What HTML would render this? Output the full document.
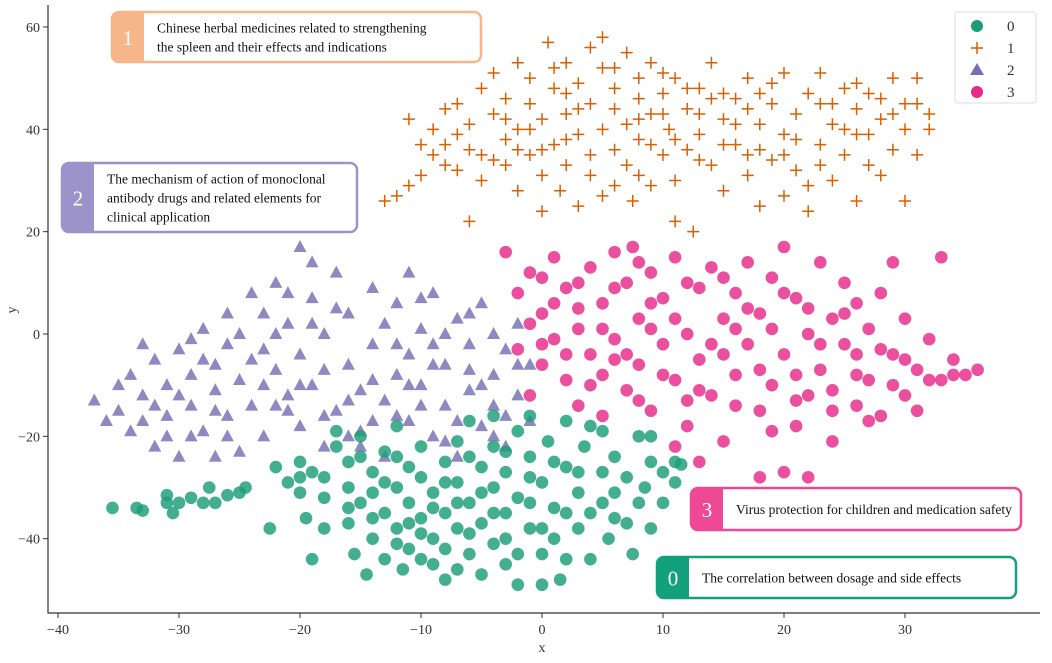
<!DOCTYPE html>
<html><head><meta charset="utf-8">
<style>
body{margin:0;background:#fff;}
svg text{font-family:"Liberation Serif",serif;}
</style></head>
<body>
<svg id="chart" width="1052" height="658" viewBox="0 0 1052 658" xmlns="http://www.w3.org/2000/svg">
<rect width="1052" height="658" fill="#fff"/>
<g id="marks"></g>
<g id="axes"></g>
</svg>
<script>
const xTicks=[-40,-30,-20,-10,0,10,20,30];
const yTicks=[-40,-20,0,20,40,60];
const tickLabels={"-40":"\u221240","-30":"\u221230","-20":"\u221220","-10":"\u221210","0":"0","10":"10","20":"20","30":"30","40":"40","60":"60"};
const cluster0=[[-35.5,-34],[-33.5,-34],[-33,-34.5],[-31,-31.5],[-31,-33],[-30.5,-35],[-30,-33],[-29,-32],[-28,-33],[-27.5,-30],[-27,-33],[-26,-31.5],[-25,-31],[-24.5,-30],[-22.5,-38],[-22,-26],[-21,-29],[-20,-25],[-20,-31],[-19.5,-36],[-19,-27],[-19,-44],[-18,-38],[-18,-28],[-17,-22],[-16,-25],[-16,-30],[-16,-37],[-15.5,-43],[-15,-20],[-15,-33],[-14.5,-47],[-14,-27],[-14,-40],[-13,-23],[-13,-35],[-13,-44],[-12,-30],[-12,-38],[-12,-24],[-11.5,-46],[-11,-33],[-11,-42],[-10,-28],[-10,-36],[-10,-22],[-9,-45],[-9,-31],[-9,-40],[-8,-25],[-8,-35],[-8,-48],[-7,-29],[-7,-38],[-7,-21],[-6,-43],[-6,-33],[-5,-26],[-5,-37],[-5,-47],[-4,-30],[-4,-41],[-4,-22],[-3,-35],[-3,-27],[-3,-45],[-2,-19],[-2,-32],[-2,-49],[-1,-24],[-1,-38],[-1,-16],[0,-29],[0,-43],[0,-49],[0.5,-21],[1,-34],[1,-40],[1.5,-48],[2,-26],[2,-17],[3,-31],[3,-38],[3.5,-22],[4,-35],[4,-44],[5,-27],[5,-19],[5.5,-40],[6,-31],[6,-24],[7,-37],[7,-28],[7.5,-43],[8,-33],[8,-20],[9,-38],[9,-25],[10,-27],[10,-33],[11,-25],[11,-29],[8.5,-30],[-6,-17],[-4,-16],[-12,-18],[-17,-19],[-14,-31],[-10,-39],[-7,-33],[-3,-40],[2,-35],[-1,-28],[-15,-24],[-13,-29],[-11,-26],[-9,-34],[-8,-42],[-6,-39],[-5,-31],[-4,-35],[-2,-43],[-1,-33],[1,-25],[3,-27],[4,-18],[6,-36],[-12,-41],[-10,-44],[-7,-46],[-3,-23],[-16,-34],[-18,-32],[-20,-28],[-8,-29],[0,-38],[2,-44],[5,-33],[-6,-24],[-14,-36],[-11,-37],[9,-20],[11.5,-25.5]];
const cluster1=[[-13,26],[-12,27],[-11,29],[-10,31],[-9,35],[-9,40],[-8,37],[-8,44],[-7,32],[-7,39],[-6,41],[-6,36],[-5,48],[-5,30],[-4,43],[-4,51],[-4,34],[-3,38],[-3,46],[-2,53],[-2,40],[-2,28],[-1,45],[-1,35],[-1,50],[0,24],[0,31],[0,42],[0.5,57],[1,48],[1,37],[1.5,28],[2,53],[2,43],[2,33],[3,49],[3,39],[3,25],[4,56],[4,45],[4,31],[5,52],[5,40],[5,27],[6,48],[6,36],[6,44],[7,55],[7,33],[7,41],[7.5,26],[8,50],[8,38],[8,46],[9,29],[9,43],[9,53],[10,35],[10,47],[10.5,40],[11,50],[11,30],[12,44],[12,36],[12.5,20],[13,48],[13,39],[14,33],[14,53],[15,42],[15,28],[16,46],[16,37],[17,50],[17,31],[18,41],[18,25],[19,45],[19,34],[20,51],[20,39],[20,27],[21,43],[21,32],[22,47],[22,24],[23,37],[23,45],[24,41],[24,30],[25,48],[25,35],[26,44],[26,26],[27,39],[27,33],[28,46],[28,42],[29,36],[29,50],[30,45],[30,26],[31,50],[31,35],[32,43],[32,40],[-11,42],[-6,22],[5,58],[23,51],[11,22],[-3,33],[3,44],[9,37],[15,47],[18,36],[26,39],[13,43],[-10,37],[-7,45],[-5,35],[-3,42],[-1,40],[1,52],[2,38],[4,35],[6,52],[8,42],[10,51],[11,38],[13,34],[14,46],[16,41],[17,35],[19,49],[21,38],[22,29],[24,45],[25,40],[27,47],[28,31],[30,40],[31,45],[2,47],[6,29],[12,48],[18,47],[-2,36],[20,35],[26,49],[8,31],[15,37],[23,33],[-8,33],[0,36],[10,43],[17,44],[29,43]];
const cluster2=[[-37,-13],[-36,-17],[-35,-15],[-34,-19],[-34,-8],[-33,-2],[-33,-12],[-32,-22],[-32,-5],[-31,-16],[-31,-10],[-30,-24],[-30,-3],[-29,-14],[-29,-8],[-28,-19],[-28,1],[-27,-6],[-27,-11],[-26,-2],[-26,-16],[-26,4],[-25,-23],[-25,-9],[-24,-14],[-24,8],[-23,-3],[-23,-20],[-22,10],[-22,-7],[-21,-12],[-21,2],[-20,17],[-20,-18],[-20,-4],[-19,7],[-19,-10],[-18,-22],[-18,0],[-17,12],[-17,-15],[-16,-6],[-16,4],[-15,-11],[-15,-19],[-14,9],[-14,-2],[-13,-13],[-13,-24],[-12,6],[-12,-8],[-11,12],[-11,-17],[-11,-4],[-10,1],[-10,-10],[-9,-20],[-9,8],[-8,-6],[-8,-14],[-7,3],[-7,-24],[-6,-2],[-6,-11],[-5,-18],[-5,6],[-4,-8],[-4,-14],[-3,-3],[-3,-22],[-2,2],[-2,-12],[-1,-6],[-1,-17],[-23,-10],[-27,-24],[-15,-22],[-9,-2],[-18,-7],[-21,-15],[-29,-20],[-12,-2],[-6,-7],[-25,0],[-16,-13],[-35,-10],[-33,-17],[-31,-20],[-30,-12],[-28,-5],[-27,-15],[-26,-20],[-24,-5],[-22,-14],[-22,0],[-20,-10],[-19,2],[-18,-16],[-17,5],[-16,-20],[-14,-9],[-13,2],[-12,-16],[-11,-10],[-10,-14],[-9,-6],[-8,0],[-7,-17],[-6,4],[-5,-10],[-4,0],[-3,-16],[-2,-6],[-21,8],[-19,14],[-23,4],[-10,7],[-14,-17],[-29,-1],[-32,-14],[-8,-21],[-4,-20]];
const cluster3=[[-3,16],[-2,8],[-2,-3],[-1,12],[-1,-12],[0,4],[0,-6],[1,15],[1,-1],[2,9],[2,-9],[3,1],[3,-14],[4,13],[4,-4],[5,6],[5,-8],[6,16],[6,-1],[7,10],[7,-11],[7.5,17],[8,3],[8,-6],[9,12],[9,-15],[10,-2],[10,7],[11,-9],[11,15],[12,0],[12,-18],[13,9],[13,-5],[14,13],[14,-12],[15,3],[15,-21],[16,-8],[16,8],[17,14],[17,-2],[18,-15],[18,4],[19,-10],[19,11],[20,17],[20,-4],[20,-27],[21,-18],[21,7],[22,0],[22,-12],[23,14],[23,-7],[24,3],[24,-21],[25,-2],[25,10],[26,-14],[26,6],[27,-9],[27,1],[28,8],[28,-16],[29,-4],[29,14],[30,-12],[30,3],[31,-7],[31,-15],[32,-1],[33,-9],[33,15],[34,-5],[35,-8],[36,-7],[5,-16],[11,-22],[22,-28],[18,-28],[3,5],[13,-25],[9,1],[6,-5],[15,-4],[21,-8],[26,-4],[0,11],[1,6],[2,-4],[3,10],[4,-10],[5,1],[6,9],[7,-4],[8,-13],[9,6],[10,-8],[11,3],[12,10],[13,-11],[14,-2],[15,11],[16,-14],[17,5],[18,-7],[19,1],[20,8],[21,-13],[22,5],[23,-2],[24,-11],[25,4],[26,-8],[27,-17],[28,-3],[29,-10],[30,-5],[32,-9],[34,-8],[0,-2],[-1,2],[19,-19],[12,-13],[8,14],[16,1],[24,-15]];
const colors=["#1b9e77","#d95f02","#7570b3","#e7298a"];
const X0=542, XS=12.1, Y0=334, YS=5.117;
function sx(v){return X0+v*XS;}
function sy(v){return Y0-v*YS;}
const NS="http://www.w3.org/2000/svg";
function mk(tag,attrs,parent){const e=document.createElementNS(NS,tag);for(const k in attrs)e.setAttribute(k,attrs[k]);parent.appendChild(e);return e;}
const marks=document.getElementById('marks');
const axes=document.getElementById('axes');
function circle(p,c,name){const e=mk('circle',{cx:sx(p[0]),cy:sy(p[1]),r:6.3,fill:c,'fill-opacity':0.82},marks);

}
cluster2.forEach(p=>{const x=sx(p[0]),y=sy(p[1]);const e=mk('polygon',{points:`${x},${y-7} ${x-6.5},${y+5} ${x+6.5},${y+5}`,fill:colors[2],'fill-opacity':0.82},marks);

});
cluster3.forEach(p=>circle(p,colors[3],'cluster-3-point'));
cluster0.forEach(p=>circle(p,colors[0],'cluster-0-point'));
cluster1.forEach(p=>{const x=sx(p[0]),y=sy(p[1]);const e=mk('path',{d:`M${x-6},${y}H${x+6}M${x},${y-6}V${y+6}`,stroke:colors[1],'stroke-width':1.5,fill:'none'},marks);

});
const ax=mk('path',{d:'M48,5V613H1040',stroke:'#333',fill:'none','stroke-width':1.2},axes);


xTicks.forEach(t=>{mk('line',{x1:sx(t),x2:sx(t),y1:613,y2:618,stroke:'#333'},axes);
const tx=mk('text',{x:sx(t),y:634,'text-anchor':'middle','font-size':14,fill:'#333'},axes);tx.textContent=tickLabels[t];

});
yTicks.forEach(t=>{mk('line',{x1:43,x2:48,y1:sy(t),y2:sy(t),stroke:'#333'},axes);
const tx=mk('text',{x:40,y:sy(t)+5,'text-anchor':'end','font-size':14,fill:'#333'},axes);tx.textContent=tickLabels[t];

});
const xl=mk('text',{x:542,y:652,'text-anchor':'middle','font-size':14,fill:'#333'},axes);xl.textContent='x';


const yl=mk('text',{x:12,y:314,'text-anchor':'middle','font-size':14,fill:'#333',transform:'rotate(-90 12 310)'},axes);yl.textContent='y';


const lg=mk('g',{},axes);


mk('rect',{x:955,y:12,width:81,height:91,rx:3,fill:'#fff',stroke:'#ddd'},lg);
const labs=['0','1','2','3'];
labs.forEach((l,i)=>{const y=26+i*22;const x=977;
if(i==1){mk('path',{d:`M${x-6},${y}H${x+6}M${x},${y-6}V${y+6}`,stroke:colors[1],'stroke-width':1.5},lg);}
else if(i==2){mk('polygon',{points:`${x},${y-7} ${x-7},${y+5} ${x+7},${y+5}`,fill:colors[2]},lg);}
else mk('circle',{cx:x,cy:y,r:6,fill:colors[i]},lg);
const t=mk('text',{x:1007,y:y+5,'font-size':15,fill:'#333'},lg);t.textContent=l;

});
const boxes=[
 {n:'1',x:112,y:12,w:369,h:50,c:'#f7b58a',lines:['Chinese herbal medicines related to strengthening','the spleen and their effects and indications'],name:'annotation-topic-1'},
 {n:'2',x:62,y:163,w:295,h:69,c:'#9c93cb',lines:['The mechanism of action of monoclonal','antibody drugs and related elements for','clinical application'],name:'annotation-topic-2'},
 {n:'3',x:691,y:488,w:330,h:42,c:'#ef4895',lines:['Virus protection for children and medication safety'],name:'annotation-topic-3'},
 {n:'0',x:657,y:557,w:359,h:41,c:'#13a07c',lines:['The correlation between dosage and side effects'],name:'annotation-topic-0'}];
boxes.forEach(b=>{const g=mk('g',{},axes);


mk('rect',{x:b.x,y:b.y,width:b.w,height:b.h,rx:7,fill:'#fff',stroke:b.c,'stroke-width':2.5},g);
mk('path',{d:`M${b.x+7},${b.y}H${b.x+32}V${b.y+b.h}H${b.x+7}Q${b.x},${b.y+b.h} ${b.x},${b.y+b.h-7}V${b.y+7}Q${b.x},${b.y} ${b.x+7},${b.y}Z`,fill:b.c},g);
const nt=mk('text',{x:b.x+16,y:b.y+b.h/2+8,'text-anchor':'middle','font-size':21,fill:'#fff','font-family':'Liberation Sans, sans-serif'},g);nt.textContent=b.n;
const lh=19;const start=b.y+b.h/2-(b.lines.length-1)*lh/2+5;
b.lines.forEach((l,i)=>{const t=mk('text',{x:b.x+45,y:start+i*lh,'text-anchor':'start','font-size':13.5,fill:'#111'},g);t.textContent=l;});
});
</script>
</body></html>
